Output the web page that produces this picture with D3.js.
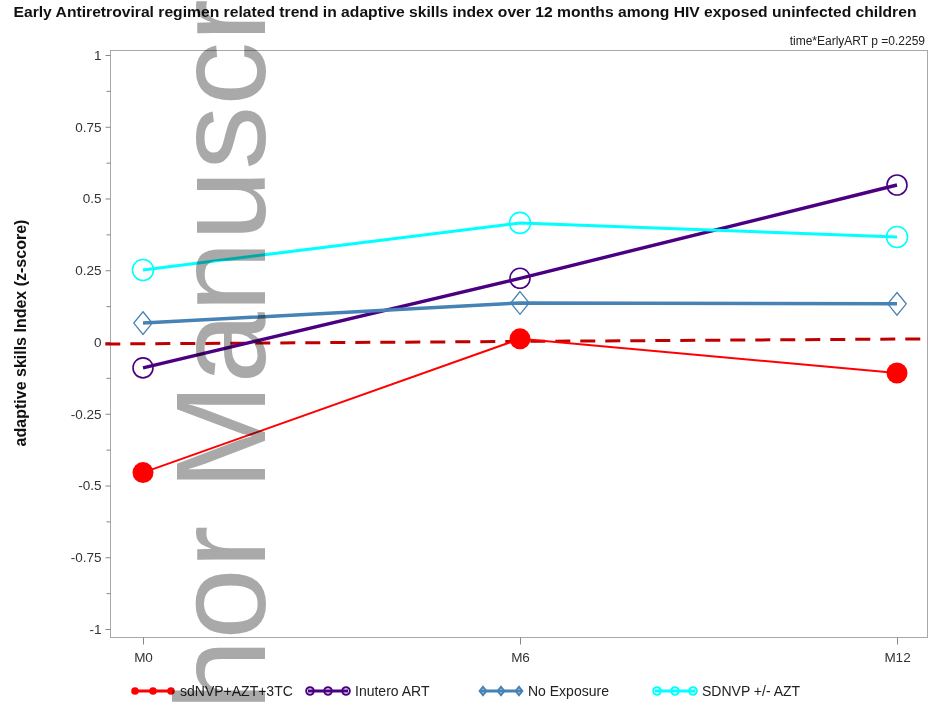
<!DOCTYPE html>
<html>
<head>
<meta charset="utf-8">
<script src="https://cdn.jsdelivr.net/npm/d3@7"></script>
<style>
  html, body { margin: 0; padding: 0; background: #fff; }
  svg { display: block; font-family: "Liberation Sans", Arial, sans-serif; }
</style>
</head>
<body>
<svg id="chart" width="930" height="704"></svg>
<script>
// Visit months and their axis labels
const months = [0, 6, 12];
const monthLabels = ["M0", "M6", "M12"];

// Adaptive skills index (z-score) by regimen group
const seriesNames = ["sdNVP+AZT+3TC", "Inutero ART", "No Exposure", "SDNVP +/- AZT"];
const sdnvpAzt3tc = [-0.455, 0.011, -0.108];
const interoArt = [-0.09, 0.222, 0.547];
const noExposure = [0.066, 0.136, 0.133];
const sdnvpAzt = [0.251, 0.415, 0.366];

// Y axis ticks
const yTicks = [-1, -0.75, -0.5, -0.25, 0, 0.25, 0.5, 0.75, 1];
const yTickLabels = ["-1", "-0.75", "-0.5", "-0.25", "0", "0.25", "0.5", "0.75", "1"];
const yMinorTicks = [-0.875, -0.625, -0.375, -0.125, 0.125, 0.375, 0.625, 0.875];

// Reference (zero) line end points
const refMonths = [-0.6, 12.6];
const refValues = [-0.007, 0.011];

const titleText = "Early Antiretroviral regimen related trend in adaptive skills index over 12 months among HIV exposed uninfected children";
const noteText = "time*EarlyART p =0.2259";
const yLabelText = "adaptive skills Index (z-score)";
const watermarkText = "Author Manuscript";

const svg = d3.select("#chart");

const frame = { left: 110.5, right: 927.5, top: 50.5, bottom: 637.5 };
const x = d3.scaleLinear().domain([0, 12]).range([143, 897]);
const y = d3.scaleLinear().domain([-1, 1]).range([629, 55]);

// Title and annotation
svg.append("text")
  .attr("x", 465).attr("y", 17)
  .attr("text-anchor", "middle")
  .attr("font-size", 15).attr("font-weight", "bold").attr("fill", "#111")
  .attr("textLength", 903).attr("lengthAdjust", "spacingAndGlyphs")
  .text(titleText);

svg.append("text")
  .attr("x", 925).attr("y", 45)
  .attr("text-anchor", "end")
  .attr("font-size", 12).attr("fill", "#222")
  .text(noteText);

// Plot frame
svg.append("rect")
  .attr("x", frame.left).attr("y", frame.top)
  .attr("width", frame.right - frame.left).attr("height", frame.bottom - frame.top)
  .attr("fill", "none").attr("stroke", "#a8a8a8").attr("stroke-width", 1);

// Y axis
const yAxis = svg.append("g")
  .attr("transform", `translate(${frame.left},0)`)
  .call(d3.axisLeft(y).tickValues(yTicks).tickSize(5).tickPadding(4)
    .tickFormat((d, i) => yTickLabels[i]));
yAxis.select(".domain").remove();
yAxis.selectAll(".tick line").attr("stroke", "#888");
yAxis.selectAll(".tick text").attr("font-size", 13.5).attr("fill", "#333")
  .attr("font-family", "Liberation Sans, Arial, sans-serif");

const yMinor = svg.append("g")
  .attr("transform", `translate(${frame.left},0)`)
  .call(d3.axisLeft(y).tickValues(yMinorTicks).tickSize(4).tickFormat(""));
yMinor.select(".domain").remove();
yMinor.selectAll(".tick line").attr("stroke", "#888");

// X axis
const xAxis = svg.append("g")
  .attr("transform", `translate(0,${frame.bottom})`)
  .call(d3.axisBottom(x).tickValues(months).tickSize(7).tickPadding(8)
    .tickFormat((d, i) => monthLabels[i]));
xAxis.select(".domain").remove();
xAxis.selectAll(".tick line").attr("stroke", "#888");
xAxis.selectAll(".tick text").attr("font-size", 13.5).attr("fill", "#333")
  .attr("font-family", "Liberation Sans, Arial, sans-serif");

// Y axis title
svg.append("text")
  .attr("transform", "translate(26,333) rotate(-90)")
  .attr("text-anchor", "middle")
  .attr("font-size", 16).attr("font-weight", "bold").attr("fill", "#111")
  .text(yLabelText);

// Dashed zero reference line
svg.append("path")
  .datum(refMonths.map((m, i) => [m, refValues[i]]))
  .attr("fill", "none").attr("stroke", "#c00000")
  .attr("stroke-width", 3).attr("stroke-dasharray", "15,10")
  .attr("d", d3.line().x(d => x(d[0])).y(d => y(d[1])));

// Series definitions (styling)
const series = [
  { name: seriesNames[0], values: sdnvpAzt3tc, color: "#ff0000", width: 2,   marker: "dot",     r: 10.5 },
  { name: seriesNames[1], values: interoArt,   color: "#4b0082", width: 3.4, marker: "circle",  r: 10 },
  { name: seriesNames[2], values: noExposure,  color: "#4682b4", width: 3.5, marker: "diamond", r: 10.5 },
  { name: seriesNames[3], values: sdnvpAzt,    color: "#00ffff", width: 3,   marker: "circle",  r: 10.5 }
];

const line = d3.line().x(d => x(d.m)).y(d => y(d.v));

function drawMarker(g, type, cx, cy, r, color, legend) {
  if (type === "dot") {
    g.append("circle").attr("cx", cx).attr("cy", cy).attr("r", r).attr("fill", color);
  } else if (type === "circle") {
    g.append("circle").attr("cx", cx).attr("cy", cy).attr("r", r)
      .attr("fill", "none").attr("stroke", color).attr("stroke-width", legend ? 2 : 1.6);
  } else {
    const w = r * 0.88, h = r * 1.08;
    g.append("path")
      .attr("d", `M${cx},${cy - h}L${cx + w},${cy}L${cx},${cy + h}L${cx - w},${cy}Z`)
      .attr("fill", "none").attr("stroke", color).attr("stroke-width", legend ? 2 : 1.3);
  }
}

const plot = svg.append("g");
series.forEach(s => {
  const pts = months.map((m, i) => ({ m, v: s.values[i] }));
  const g = plot.append("g");
  g.append("path").datum(pts)
    .attr("fill", "none").attr("stroke", s.color).attr("stroke-width", s.width)
    .attr("d", line);
  pts.forEach(p => drawMarker(g, s.marker, x(p.m), y(p.v), s.r, s.color, false));
});

// Legend
const legendX = [133, 308, 481, 655];
const legend = svg.append("g").attr("transform", "translate(0,691)");
series.forEach((s, i) => {
  const g = legend.append("g").attr("transform", `translate(${legendX[i]},0)`);
  g.append("line").attr("x1", 0).attr("x2", 40).attr("y1", 0).attr("y2", 0)
    .attr("stroke", s.color).attr("stroke-width", 3);
  [2, 20, 38].forEach(cx => drawMarker(g, s.marker, cx, 0, 3.8, s.color, true));
  g.append("text").attr("x", 47).attr("y", 5)
    .attr("font-size", 14).attr("fill", "#222")
    .text(s.name);
});

// Watermark
const wm = svg.append("text")
  .attr("font-size", 128)
  .attr("fill", "#a9a9a9")
  .style("mix-blend-mode", "multiply")
  .attr("font-family", "Liberation Sans, Arial, sans-serif")
  .text(watermarkText);
const lead = wm.node().getSubStringLength(0, 7);
wm.attr("transform", `translate(265,${490 + lead}) rotate(-90)`);
</script>
</body>
</html>
